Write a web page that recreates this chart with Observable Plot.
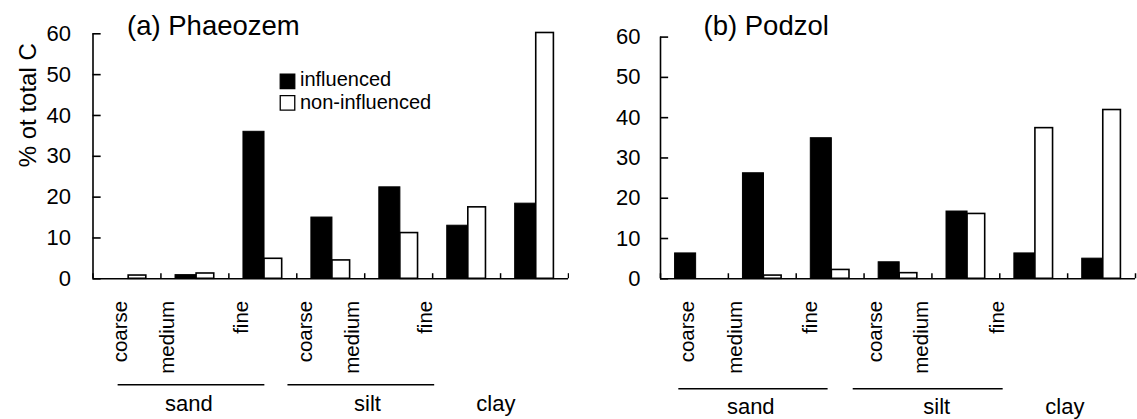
<!DOCTYPE html>
<html><head><meta charset="utf-8">
<script src="https://cdn.jsdelivr.net/npm/d3@7"></script>
<script src="https://cdn.jsdelivr.net/npm/@observablehq/plot@0.6"></script>
<style>
html,body{margin:0;padding:0;background:#fff;}
#wrap{display:flex;width:1137px;height:419px;overflow:hidden;}
#wrap svg{overflow:visible;display:block;}
</style></head><body><div id="wrap"></div>
<script>
// ---- data ----
const sizes = ["coarse", "medium", "fine", "coarse", "medium", "fine", "clay"];
const fractions = ["sand", "sand", "sand", "silt", "silt", "silt", "clay"];
const groupNames = ["sand", "silt", "clay"];
const seriesNames = ["influenced", "non-influenced"];
const phaeozemInfluenced = [0, 0.9, 36.0, 15.0, 22.4, 13.0, 18.4];
const phaeozemNon = [0.8, 1.3, 4.9, 4.5, 11.2, 17.5, 60.2];
const podzolInfluenced = [6.3, 26.2, 34.9, 4.1, 16.7, 6.3, 5.0];
const podzolNon = [0, 0.8, 2.2, 1.4, 16.1, 37.4, 41.9];
const yTicks = [0, 10, 20, 30, 40, 50, 60];
const panelTitles = ["(a) Phaeozem", "(b) Podzol"];
const yLabel = "% ot total C";

// ---- layout (category-index units / pixels) ----
const FONT = "'Liberation Sans', Arial, Helvetica, sans-serif";
const layouts = [
  {width: 569, marginLeft: 92.5, marginRight: 1, marginTop: 33.3,
   sizeX: [0.40, 1.10, 2.18, 3.13, 3.82, 4.90], spans: [[0.37, 2.53], [2.87, 5.03]],
   groupX: [1.41, 4.04, 5.93], lineDy: 106, groupDy: 125, titleDx: 34, titleDy: -8,
   tickPad: 22, legend: true, ylabel: true},
  {width: 568, marginLeft: 91, marginRight: 2, marginTop: 36.6,
   sizeX: [0.39, 1.10, 2.21, 3.17, 3.85, 4.96], spans: [[0.27, 2.47], [2.84, 5.05]],
   groupX: [1.33, 4.07, 5.96], lineDy: 110, groupDy: 128, titleDx: 43, titleDy: -11,
   tickPad: 20, legend: false, ylabel: false}
];

function panel(k, inf, non) {
  const L = layouts[k];
  const rows = sizes.map((s, i) => ({i, size: s, fraction: fractions[i], inf: inf[i], non: non[i]}));
  const sizeLabels = sizes.slice(0, 6).map((s, i) => ({x: L.sizeX[i], text: s}));
  const spans = L.spans.map((s, i) => ({x1: s[0], x2: s[1], name: groupNames[i]}));
  const groupLabels = groupNames.map((g, i) => ({x: L.groupX[i], text: g}));
  const marks = [
    Plot.rect(rows, {x1: d => d.i + 0.215, x2: d => d.i + 0.525, y1: () => 0, y2: "inf",
      fill: "black", stroke: "black", strokeWidth: 1}),
    Plot.rect(rows, {x1: d => d.i + 0.525, x2: d => d.i + 0.785, y1: () => 0, y2: "non",
      fill: "white", stroke: "black", strokeWidth: 1.6}),
    Plot.ruleX([0], {strokeWidth: 1.6}),
    Plot.ruleY([0], {strokeWidth: 1.6}),
    Plot.ruleX(d3.range(8), {x: d => d, y1: () => 0, y2: () => 1.25, strokeWidth: 1.5}),
    Plot.ruleY(yTicks, {y: d => d, x1: () => 0, x2: () => 0.12, strokeWidth: 1.6}),
    Plot.axisY({ticks: yTicks, tickSize: 0, tickPadding: L.tickPad, fontSize: 22, label: null}),
    Plot.text(sizeLabels, {x: "x", text: "text", frameAnchor: "bottom", rotate: -90,
      textAnchor: "end", lineAnchor: "middle", dy: 22, fontSize: 20.5}),
    Plot.ruleY(spans, {x1: "x1", x2: "x2", y: () => 0, dy: L.lineDy, strokeWidth: 1.5}),
    Plot.text(groupLabels, {x: "x", text: "text", frameAnchor: "bottom", lineAnchor: "middle",
      dy: L.groupDy, fontSize: 22}),
    Plot.text([panelTitles[k]], {frameAnchor: "top-left", textAnchor: "start", lineAnchor: "middle",
      dx: L.titleDx, dy: L.titleDy, fontSize: 27.5})
  ];
  if (L.ylabel) {
    marks.push(Plot.text([yLabel], {frameAnchor: "left", rotate: -90, lineAnchor: "middle",
      dx: -65, dy: 11, fontSize: 24}));
  }
  if (L.legend) {
    seriesNames.forEach((s, i) => {
      marks.push(Plot.dot([s], {frameAnchor: "top-left", symbol: "square", r: 8.2,
        fill: i === 0 ? "black" : "white", stroke: "black", strokeWidth: 1.3,
        dx: 194.5, dy: 47.5 + 21.5 * i}));
      marks.push(Plot.text([s], {frameAnchor: "top-left", textAnchor: "start", lineAnchor: "middle",
        dx: 207, dy: 46 + 22.5 * i, fontSize: 20}));
    });
  }
  return Plot.plot({
    width: L.width, height: 419,
    marginLeft: L.marginLeft, marginRight: L.marginRight,
    marginTop: L.marginTop, marginBottom: 419 - 278.3,
    x: {type: "linear", domain: [0, 7], axis: null},
    y: {domain: [0, 60], axis: null},
    style: {fontFamily: FONT, fontSize: "22px", background: "white", color: "black", overflow: "visible"},
    marks
  });
}

const wrap = document.getElementById("wrap");
wrap.appendChild(panel(0, phaeozemInfluenced, phaeozemNon));
wrap.appendChild(panel(1, podzolInfluenced, podzolNon));
</script></body></html>
